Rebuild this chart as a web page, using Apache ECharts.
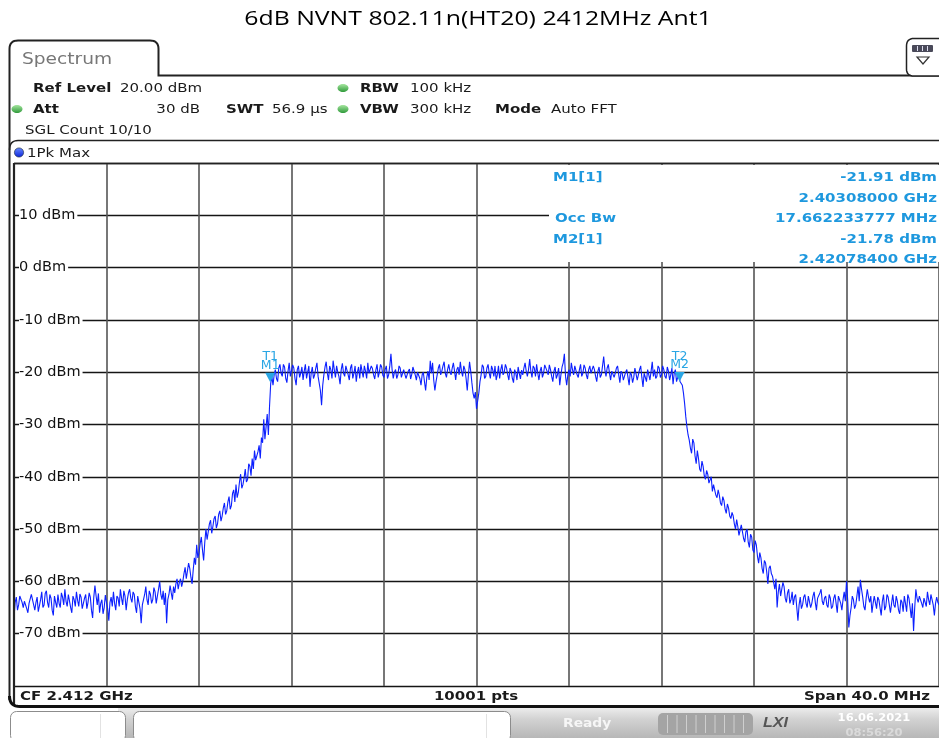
<!DOCTYPE html>
<html>
<head>
<meta charset="utf-8">
<script src="https://cdn.jsdelivr.net/npm/echarts/dist/echarts.min.js"></script>
<style>
html,body{margin:0;padding:0;background:#fff;}
#c{width:939px;height:738px;}
</style>
</head>
<body>
<div id="c"></div>
<script>
// ---------------- data ----------------
const titleText = '6dB NVNT 802.11n(HT20) 2412MHz Ant1';
const sweepStartMHz = 2392;
const sweepStepMHz = 0.1;      // main readings every 0.1 MHz, "mid" readings half-way between
const spanMinMHz = 2392;
const spanMaxMHz = 2432;
const xGridStepMHz = 4;
const refMinDbm = -80;
const refMaxDbm = 20;
const yGridStepDb = 10;

// 2392.0 - 2398.9 MHz
const floorLowDbm = [
  -67, -63, -64.5, -62.5, -65, -63.5, -66, -64, -62.8, -65.5,
  -63, -66, -62, -64.5, -61.8, -65, -63.2, -66.5, -64, -62.5,
  -65, -63, -61.5, -64.8, -62.7, -66, -63.5, -62, -64.8, -63,
  -65.5, -62.5, -64, -63, -67, -60.8, -64.5, -66, -63.5, -65,
  -64, -67.5, -63, -62, -65.5, -63.2, -61.5, -64.5, -62.8, -63.5,
  -61.5, -64, -62.5, -66, -63, -68, -63.5, -61, -64.5, -62.5,
  -63.5, -62, -62.8, -60, -63.5, -64.5, -68, -62.5, -62.2, -61
];
const floorLowMidDbm = [
  -64, -65.5, -62.8, -64, -63.8, -65.2, -64.2, -62.5, -64.5, -64,
  -65.8, -63.5, -65, -62.3, -64, -62.5, -65.5, -62.8, -65, -64.2,
  -62.2, -64.5, -63.8, -62.5, -65, -62.8, -64.8, -63.6, -62.4, -65.2,
  -63.2, -65.2, -62.2, -65.5, -63, -62.8, -62.3, -64.2, -66.2, -62.6,
  -65.2, -64, -64.8, -64.2, -62.8, -64.8, -63.2, -61.8, -65.5, -62.2,
  -63.2, -62, -64.8, -62.8, -65.2, -64.5, -62.5, -63.5, -61.8, -64.2,
  -61.2, -64.2, -61.5, -62.5, -61.8, -62.2, -63.5, -60.8, -63.5, -62.2
];
// 2399.0 - 2403.1 MHz
const edgeLowDbm = [
  -60.5, -61.5, -59.5, -60, -57.3, -58, -57.5, -60.5, -55.5, -53,
  -54.5, -51.5, -56, -50, -50.5, -48.3, -49.5, -47.5, -49, -46.5,
  -47.5, -45, -46.5, -43.8, -45.5, -42.5, -41.5, -43, -39.5, -41.5,
  -38.5, -40.5, -38, -36.5, -35, -37, -34, -32.5, -29, -30.5,
  -32, -22.2
];
const edgeLowMidDbm = [
  -59.5, -60.2, -61, -58.5, -59.5, -56.5, -59.2, -57.8, -56.8, -55.5,
  -52.8, -54, -52.5, -52, -49, -50.8, -48, -49.8, -47.2, -48.5,
  -46, -47.2, -44.8, -46.2, -43.2, -44.8, -44, -41, -42.2, -40.2,
  -41, -37.5, -39.8, -38.5, -36.8, -35.2, -36.5, -33.5, -32.8, -28,
  -26.5, -20.8
];
// 2403.2 - 2420.8 MHz
const plateauDbm = [
  -22.5, -19.5, -21.8, -18.5, -20.8, -19, -22, -18.2,
  -20.5, -19.2, -22.5, -18.8, -20.2, -21.5, -18.5, -20, -22.8, -19,
  -20.5, -18.2, -21, -26.3, -20.5, -18, -21.5, -19.5, -17.8, -21,
  -20, -22.3, -18.3, -20.8, -19, -21.5, -18.5, -20.2, -21.8, -19,
  -18.5, -21, -19.8, -18.2, -20.5, -19.3, -21.3, -18.5, -20, -19,
  -21, -18.8, -20.5, -16.5, -21.2, -19.5, -20.5, -19.2, -20.8, -19.6,
  -21, -19.4, -20.4, -18.8, -21.5, -19.8, -22.5, -20, -23.5, -19.8,
  -17.8, -18.2, -23.5, -20.5, -18.5, -19.8, -18, -21, -18.5, -20.5,
  -18.2, -21.5, -19, -18, -20.8, -19.5, -23.5, -18, -22, -25,
  -27, -24, -20.5, -19, -20.8, -18.5, -21.2, -19.5, -18.8, -20.5,
  -21.2, -18.5, -20, -19.2, -21.5, -19.8, -22, -20.2, -19, -21.3,
  -20.5, -18.2, -20.8, -17.5, -21, -19.2, -18.5, -21.5, -19, -20.2,
  -18.5, -20.5, -19.5, -21.8, -19, -20.5, -22.5, -19, -16.5, -22.5,
  -19.5, -18.2, -20.5, -19, -21, -18.5, -20.2, -19.2, -21.3, -18.8,
  -20.5, -19.5, -21.8, -19, -20.5, -17, -20.8, -18.5, -21.5, -19.5,
  -20.2, -18.8, -22, -20.2, -21.8, -19.5, -22.5, -20.5, -21, -19.5,
  -20.5, -18.8, -22.8, -20.5, -19.5, -21.5, -18, -19.5, -20.8, -19.2,
  -20.5, -19.5, -21.2, -19.8, -20.5, -22.3, -19.5, -21, -21.78
];
const plateauMidDbm = [
  -20.5, -21.2, -19.2, -20.2, -18.5, -21.2, -19.8, -20.8,
  -18.6, -21.2, -19.5, -21, -19, -19.8, -21.2, -18.8, -20.2, -21.2,
  -19.2, -20.8, -23.5, -22.5, -19, -20.2, -18.8, -21.2, -19.5, -18.8,
  -20.8, -19.5, -20.2, -18.8, -20.5, -19.2, -21.2, -18.8, -20, -21.2,
  -19.8, -18.8, -21.2, -20.2, -18.8, -20.5, -19.5, -21, -18.5, -20.6,
  -19.5, -21.2, -18.8, -19.5, -20, -21.2, -18.8, -21, -19.5, -21.2,
  -19.8, -21.3, -19, -20.5, -20, -21.2, -20.5, -21.8, -21, -21.5,
  -20.2, -21.5, -21.8, -19.2, -20.5, -18.8, -20.2, -19.5, -19.8, -19.2,
  -19.8, -19.5, -20.5, -19.8, -18.8, -21.2, -20.5, -19.8, -24, -23.8,
  -25.5, -21.8, -18.6, -21.2, -19.2, -20.2, -18.8, -20.8, -21.5, -18.8,
  -19.5, -20.5, -18.5, -20.5, -19.2, -21.2, -19.5, -21.5, -20.2, -19.6,
  -19.2, -19.8, -19.5, -19.8, -18.8, -20.8, -20.2, -19.8, -21, -18.6,
  -19.8, -18.6, -20.8, -19.8, -21.2, -19.2, -20.5, -18.2, -20.8, -20.5,
  -20.8, -19.5, -18.8, -20.5, -19.5, -20.8, -18.6, -20.5, -19.5, -20.2,
  -18.8, -20.8, -19.8, -21, -18.8, -19.5, -19.2, -20.2, -19.8, -21,
  -19.2, -20.5, -19.8, -21.5, -20, -21, -20, -22, -19.2, -21.5,
  -19.5, -21, -20.2, -21.8, -20.5, -19.8, -20.8, -21.2, -18.8, -21,
  -18.8, -20.8, -19, -21.5, -19.2, -20.2, -21.8, -20, -22
];
// 2420.9 - 2426.0 MHz
const edgeHighDbm = [
  -22.5,
  -26, -30.5, -33, -35.5, -33.5, -37.5, -36.5, -39, -38, -40.5,
  -39.5, -41.5, -42.8, -41.8, -44, -43.5, -45.5, -44.5, -47, -46,
  -48, -47.5, -50, -49.5, -51, -49.5, -52.5, -50, -53.5, -51.5,
  -54.5, -53, -56.5, -55.5, -58.5, -56.5, -60.5, -57, -59, -61.5,
  -65, -60.5, -62.5, -61, -64, -61.5, -63.5, -64.5, -62.5, -67.5,
  -63
];
const edgeHighMidDbm = [
  -24,
  -28.5, -32, -34.5, -32.8, -36, -35, -38.5, -37, -39.8, -38.8,
  -41.2, -40, -41.5, -43.5, -42.5, -45, -43.8, -46.2, -45.2, -47.5,
  -46.8, -49, -48.2, -51.2, -49.2, -51.8, -50.5, -52.5, -51, -54,
  -52.2, -55.2, -54.5, -57.5, -56, -58.2, -57.5, -58.5, -60.2, -59.5,
  -62, -62.8, -60.2, -63.2, -62.2, -64.2, -62, -63, -65, -64.5,
  -65.2
];
// 2426.1 - 2432.0 MHz
const floorHighDbm = [
  -64.5, -62.5, -65, -63, -64.2, -62, -65.5, -63.5, -61.5,
  -64.5, -62.8, -65, -63.2, -64.8, -62.5, -66, -63, -65.5, -62,
  -60, -68.8, -65, -63.5, -64.5, -61, -59.7, -63, -65.5, -61.5,
  -64, -66, -62.8, -65.2, -63.5, -66.5, -62.5, -64.8, -63, -66,
  -62.5, -65, -63.8, -66.2, -64, -62.8, -65.8, -63.2, -67, -69.5,
  -61.5, -64, -62.5, -65, -63, -62, -64.5, -62.8, -66.5, -63,
  -64.5
];
const floorHighMidDbm = [
  -63, -64.2, -62.8, -65, -62.8, -64, -63.2, -62.2, -63.8,
  -63.2, -64.5, -62.5, -65.2, -63.2, -64.2, -62.8, -64.2, -63.5, -63.8,
  -63.5, -66.5, -62.8, -65.2, -62.8, -63.8, -61.5, -64.8, -63.2, -63,
  -62.8, -64.2, -64, -63, -65, -63.8, -65.5, -62.5, -64.5, -64.2,
  -64.5, -62.8, -65.5, -63.5, -65.8, -64.2, -62.5, -65, -64.2, -65,
  -63.2, -62.8, -64.2, -63.2, -64.8, -63.5, -62.5, -64.5, -64.2, -64
];

const markerNames = ['M1', 'M2'];
const markerMHz = [2403.08, 2420.784];
const markerDbm = [-21.91, -21.78];
const markerFreqText = ['2.40308000 GHz', '2.42078400 GHz'];
const markerLevelText = ['-21.91 dBm', '-21.78 dBm'];
const occBwText = '17.662233777 MHz';

// ---------------- chart ----------------
const mainLevels = [].concat(floorLowDbm, edgeLowDbm, plateauDbm, edgeHighDbm, floorHighDbm);
const midLevels = [].concat(floorLowMidDbm, edgeLowMidDbm, plateauMidDbm, edgeHighMidDbm, floorHighMidDbm);
const trace = [];
mainLevels.forEach((v, i) => {
  const f = sweepStartMHz + i * sweepStepMHz;
  trace.push([+f.toFixed(3), v]);
  if (i < midLevels.length) trace.push([+(f + sweepStepMHz / 2).toFixed(3), midLevels[i]]);
});

const BLUE = '#1e98de';
function txt(x, y, s, o) {
  o = o || {};
  const font = (o.italic ? 'italic ' : '') + (o.bold ? 'bold ' : '') + (o.size || 12.5) + 'px ' + (o.family || '"DejaVu Sans"');
  return {
    type: 'text', x: x, y: y + (o.dy == null ? 2 : o.dy), scaleX: (o.sx == null ? 1.2 : o.sx), z: (o.z == null ? 20 : o.z), silent: true,
    style: {
      text: s, fill: o.fill || '#1a1a1a', font: font,
      align: o.align || 'left', textAlign: o.align || 'left',
      verticalAlign: 'middle', textVerticalAlign: 'middle',
      opacity: (o.opacity == null ? 1 : o.opacity)
    }
  };
}
function line(x1, y1, x2, y2, c, w, z) {
  return {type: 'line', silent: true, z: z == null ? 20 : z, shape: {x1, y1, x2, y2}, style: {stroke: c, lineWidth: w}};
}
// rounded-corner outline helper: {c:[x,y]} entries are quadratic control points
function outline(spec) {
  const pts = [];
  for (let i = 0; i < spec.length; i++) {
    const s = spec[i];
    if (s.c) {
      const p0 = pts[pts.length - 1], p1 = spec[i + 1];
      for (let k = 1; k < 8; k++) {
        const t = k / 8, u = 1 - t;
        pts.push([u * u * p0[0] + 2 * u * t * s.c[0] + t * t * p1[0], u * u * p0[1] + 2 * u * t * s.c[1] + t * t * p1[1]]);
      }
    } else {
      pts.push(s);
    }
  }
  return pts;
}
function poly(spec, st, z, closed) {
  return {type: closed ? 'polygon' : 'polyline', silent: true, z: z == null ? 20 : z, shape: {points: outline(spec)}, style: st};
}
const LG = echarts.graphic.LinearGradient;
const greenLed = new LG(0, 0, 0, 1, [{offset: 0, color: '#a6e6a0'}, {offset: 1, color: '#2f9a3a'}]);

const graphics = [
  txt(478, 19, titleText, {size: 20, family: '"Open Sans"', sx: 1.24, align: 'center', fill: '#000', dy: 0}),
  // tab & frame
  poly([[9.5, 700], [9.5, 49], {c: [9.5, 40.5]}, [18, 40.5], [150, 40.5], {c: [158.5, 40.5]}, [158.5, 49], [158.5, 75.5], [945, 75.5]],
       {stroke: '#222', lineWidth: 2, fill: null}),
  txt(22, 58, 'Spectrum', {size: 15.5, fill: '#777'}),
  // top right icon
  poly([[945, 38.5], [914, 38.5], {c: [906.5, 38.5]}, [906.5, 46], [906.5, 69], {c: [906.5, 76]}, [914, 76], [945, 76]],
       {stroke: '#222', lineWidth: 1.5, fill: '#fff'}, 20, true),
  {type: 'rect', silent: true, z: 21, shape: {x: 912, y: 45, width: 21, height: 7, r: 1}, style: {fill: '#4a4a5a'}},
  line(917.5, 46, 917.5, 51, '#dde', 1, 22), line(922.5, 46, 922.5, 51, '#dde', 1, 22), line(927.5, 46, 927.5, 51, '#dde', 1, 22),
  {type: 'polygon', silent: true, z: 21, shape: {points: [[917, 57], [929, 57], [923, 64]]}, style: {stroke: '#333', lineWidth: 1.2, fill: null}},
  // header
  txt(33, 87, 'Ref Level', {bold: true}),
  txt(120, 87, '20.00 dBm'),
  {type: 'ellipse', silent: true, z: 20, shape: {cx: 343, cy: 88, rx: 5.5, ry: 4}, style: {fill: greenLed}},
  txt(360, 87, 'RBW', {bold: true}),
  txt(410, 87, '100 kHz'),
  {type: 'ellipse', silent: true, z: 20, shape: {cx: 17, cy: 109, rx: 5.5, ry: 4}, style: {fill: greenLed}},
  txt(33, 108, 'Att', {bold: true}),
  txt(200, 108, '30 dB', {align: 'right'}),
  txt(226, 108, 'SWT', {bold: true}),
  txt(272, 108, '56.9 µs'),
  {type: 'ellipse', silent: true, z: 20, shape: {cx: 343, cy: 109, rx: 5.5, ry: 4}, style: {fill: greenLed}},
  txt(360, 108, 'VBW', {bold: true}),
  txt(410, 108, '300 kHz'),
  txt(495, 108, 'Mode', {bold: true}),
  txt(551, 108, 'Auto FFT'),
  txt(25, 129, 'SGL Count 10/10'),
  poly([[9.5, 150], {c: [9.5, 140.5]}, [18, 140.5], [945, 140.5]], {stroke: '#222', lineWidth: 1.5, fill: null}),
  {type: 'circle', silent: true, z: 20, shape: {cx: 19, cy: 152.5, r: 4.6},
   style: {fill: new LG(0, 0, 0, 1, [{offset: 0, color: '#6a8cff'}, {offset: 1, color: '#0a22d8'}]), stroke: '#123', lineWidth: 0.6}},
  txt(27, 152, '1Pk Max'),
  // plot border
  line(14, 163.5, 945, 163.5, '#222', 1.5),
  line(14, 163, 14, 706, '#222', 2.2),
  // marker table
  {type: 'rect', silent: true, z: 10, shape: {x: 549, y: 165, width: 400, height: 97}, style: {fill: '#fff'}},
  txt(553, 176, markerNames[0] + '[1]', {bold: true, fill: BLUE}),
  txt(937, 176, markerLevelText[0], {bold: true, fill: BLUE, align: 'right'}),
  txt(937, 197, markerFreqText[0], {bold: true, fill: BLUE, align: 'right'}),
  txt(555, 217, 'Occ Bw', {bold: true, fill: BLUE}),
  txt(937, 217, occBwText, {bold: true, fill: BLUE, align: 'right'}),
  txt(553, 238, markerNames[1] + '[1]', {bold: true, fill: BLUE}),
  txt(937, 238, markerLevelText[1], {bold: true, fill: BLUE, align: 'right'}),
  txt(937, 258, markerFreqText[1], {bold: true, fill: BLUE, align: 'right'}),
  // bottom info row
  txt(20, 695, 'CF 2.412 GHz', {bold: true}),
  txt(476, 695, '10001 pts', {bold: true, align: 'center'}),
  txt(930, 695, 'Span 40.0 MHz', {bold: true, align: 'right'}),
  poly([[9.5, 696], {c: [9.5, 706.5]}, [20, 706.5], [945, 706.5]], {stroke: '#111', lineWidth: 3, fill: null}),
  // status bar
  {type: 'rect', silent: true, z: 18, shape: {x: 118, y: 708, width: 830, height: 32},
   style: {fill: new LG(0, 0, 0, 1, [{offset: 0, color: '#ececec'}, {offset: 0.35, color: '#d2d2d2'}, {offset: 1, color: '#b4b4b4'}])}},
  {type: 'rect', silent: true, z: 19, shape: {x: 10.5, y: 711.5, width: 115, height: 30, r: 6}, style: {fill: '#fff', stroke: '#8c8c8c', lineWidth: 1}},
  line(100.5, 714, 100.5, 738, '#e2e2e2', 1),
  {type: 'rect', silent: true, z: 19, shape: {x: 133.5, y: 711.5, width: 377, height: 30, r: 6}, style: {fill: '#fff', stroke: '#8c8c8c', lineWidth: 1}},
  line(486.5, 714, 486.5, 738, '#e2e2e2', 1),
  txt(563, 722, 'Ready', {bold: true, fill: '#f6f6f6', size: 12, sx: 1.15}),
  {type: 'rect', silent: true, z: 20, shape: {x: 658, y: 713, width: 95, height: 22, r: 5}, style: {fill: '#a4a4a4'}},
  txt(763, 721, 'LXI', {bold: true, italic: true, fill: '#555', size: 14, family: '"Liberation Sans"', sx: 1.15}),
  txt(874, 716, '16.06.2021', {bold: true, fill: '#fff', size: 10, align: 'center', sx: 1.15}),
  txt(874, 731, '08:56:20', {bold: true, fill: '#ededed', size: 10, align: 'center', sx: 1.15, opacity: 0.6})
];
for (let k = 0; k < 9; k++) {
  graphics.push(line(667.5 + k * 9.5, 715, 667.5 + k * 9.5, 733, '#cfcfcf', 1, 21));
}

const chart = echarts.init(document.getElementById('c'));
chart.setOption({
  animation: false,
  backgroundColor: '#fff',
  grid: {left: 14, right: 0, top: 163, height: 523, containLabel: false},
  xAxis: {
    type: 'value', min: spanMinMHz, max: spanMaxMHz, interval: xGridStepMHz,
    axisLine: {show: false}, axisTick: {show: false}, axisLabel: {show: false},
    splitLine: {show: true, lineStyle: {color: '#555', width: 1.6}}
  },
  yAxis: {
    type: 'value', min: refMinDbm, max: refMaxDbm, interval: yGridStepDb,
    axisLine: {show: false}, axisTick: {show: false},
    axisLabel: {
      inside: true, margin: 5, showMinLabel: false, showMaxLabel: false,
      formatter: v => v + ' dBm', color: '#111', fontFamily: 'DejaVu Sans', fontSize: 14.5,
      backgroundColor: '#fff', padding: [1, 2, 1, 0]
    },
    splitLine: {show: true, lineStyle: {color: '#151515', width: 1.3}}
  },
  series: [{
    type: 'line', data: trace, showSymbol: false, symbol: 'none', z: 3,
    lineStyle: {color: '#0c20ff', width: 1.1},
    markPoint: {
      symbol: 'path://M0,0 L10,0 L5,9 Z', symbolSize: [10, 9.5], symbolOffset: [0, -4.75], symbolKeepAspect: false,
      itemStyle: {color: '#2aa6e4'},
      label: {
        show: true, position: 'top', distance: 1,
        formatter: p => '{t|T' + (p.dataIndex + 1) + '}\n{m|' + p.name + '}',
        rich: {
          t: {fontSize: 12.5, lineHeight: 5, color: '#2aa6e4', fontFamily: 'DejaVu Sans'},
          m: {fontSize: 12.5, lineHeight: 12, color: '#2aa6e4', fontFamily: 'DejaVu Sans'}
        }
      },
      data: markerNames.map((n, i) => ({name: n, coord: [markerMHz[i], markerDbm[i]]}))
    }
  }],
  graphic: {elements: graphics}
});
</script>
</body>
</html>
